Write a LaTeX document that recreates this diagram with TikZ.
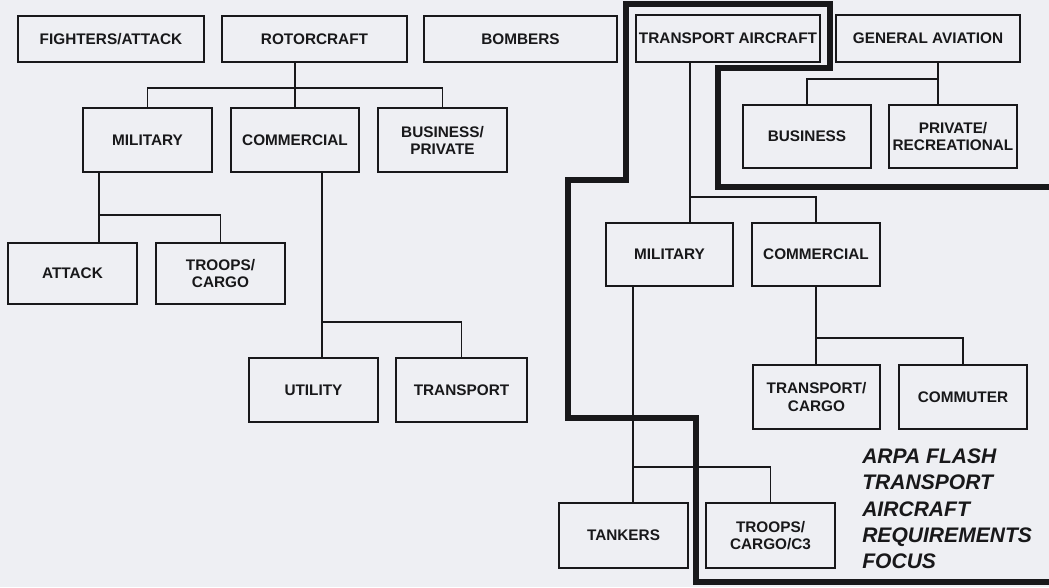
\documentclass[tikz,border=0pt]{standalone}
\usepackage{fontspec}
\setmainfont{Liberation Sans}
\usetikzlibrary{calc}
\definecolor{paper}{RGB}{238,239,243}
\definecolor{ink}{RGB}{24,24,26}
\tikzset{
  box/.style n args={4}{draw=ink, line width=1.6pt, inner sep=0pt, outer sep=0pt,
    minimum width={(#2-#1)*0.75pt}, minimum height={(#4-#3)*0.75pt},
    align=center, text=ink, font=\fontsize{11.5}{12.8}\selectfont\bfseries},
  conn/.style={draw=ink, line width=1pt},
  focus/.style={draw=ink, line width=3.8pt, line join=miter},
  note/.style={anchor=base west, inner sep=0pt, text=ink, font=\fontsize{15.8}{19}\selectfont\bfseries\itshape}
}
\newcommand{\bx}[6]{\node[box={#3}{#4}{#5}{#6}] (#1) at ({(#3+#4)/2},{(#5+#6)/2}) {#2};}
\begin{document}
\begin{tikzpicture}[x=0.75pt,y=-0.75pt]
\fill[paper] (0,0) rectangle (1049,587);
\useasboundingbox (0,0) rectangle (1049,587);
% top row
\bx{fa}{FIGHTERS/ATTACK}{18}{204}{16}{62}
\bx{rot}{ROTORCRAFT}{222}{407}{16}{62}
\bx{bomb}{BOMBERS}{424}{617}{16}{62}
\bx{ta}{TRANSPORT AIRCRAFT}{636}{820}{15}{62}
\bx{ga}{GENERAL AVIATION}{836}{1020}{15}{62}
% rotorcraft branch
\bx{rmil}{MILITARY}{83}{212}{108}{172}
\bx{rcom}{COMMERCIAL}{231}{359}{108}{172}
\bx{rbus}{BUSINESS/\\PRIVATE}{378}{507}{108}{172}
\bx{ratt}{ATTACK}{8}{137}{243}{304}
\bx{rtro}{TROOPS/\\CARGO}{156}{285}{243}{304}
\bx{rutil}{UTILITY}{249}{378}{358}{422}
\bx{rtra}{TRANSPORT}{396}{527}{358}{422}
% general aviation branch
\bx{gbus}{BUSINESS}{743}{871}{105}{168}
\bx{gpriv}{PRIVATE/\\RECREATIONAL}{889}{1017}{105}{168}
% transport aircraft branch
\bx{tmil}{MILITARY}{606}{733}{223}{286}
\bx{tcom}{COMMERCIAL}{752}{880}{223}{286}
\bx{tcar}{TRANSPORT/\\CARGO}{753}{880}{365}{429}
\bx{tcmu}{COMMUTER}{899}{1027}{365}{429}
\bx{ttank}{TANKERS}{559}{688}{503}{568}
\bx{ttro}{TROOPS/\\CARGO/C3}{706}{835}{503}{568}
% junctions
\coordinate (j0) at (295,88);
\coordinate (j1) at (99,215);
\coordinate (j2) at (322,322);
\coordinate (j3) at (690,197);
\coordinate (j4) at (816,338);
\coordinate (j5) at (633,467);
\coordinate (j6) at (938,79);
% connectors
\draw[conn] (rot.south -| j0) -- (rcom.north -| j0);
\draw[conn] (rmil.north) |- (j0) -| (rbus.north);
\draw[conn] (rmil.south -| j1) -- (ratt.north -| j1);
\draw[conn] (j1) -| (rtro.north);
\draw[conn] (rcom.south -| j2) -- (rutil.north -| j2);
\draw[conn] (j2) -| (rtra.north);
\draw[conn] (ta.south -| j3) -- (tmil.north -| j3);
\draw[conn] (j3) -| (tcom.north);
\draw[conn] (tcom.south -| j4) -- (tcar.north -| j4);
\draw[conn] (j4) -| (tcmu.north);
\draw[conn] (tmil.south -| j5) -- (ttank.north -| j5);
\draw[conn] (j5) -| (ttro.north);
\draw[conn] (ga.south -| j6) -- (gpriv.north -| j6);
\draw[conn] (j6) -| (gbus.north);
% focus boundary
\draw[focus] (1049,582) -- (696,582) -- (696,418) -- (568,418) -- (568,180) -- (626,180)
  -- (626,4) -- (830,4) -- (830,68) -- (718,68) -- (718,187) -- (1049,187);
% note
\node[note] (n1) at (862,463) {ARPA FLASH};
\node[note] (n2) at (862,489) {TRANSPORT};
\node[note] (n3) at (862,516) {AIRCRAFT};
\node[note] (n4) at (862,542) {REQUIREMENTS};
\node[note] (n5) at (862,568) {FOCUS};
\end{tikzpicture}
\end{document}
